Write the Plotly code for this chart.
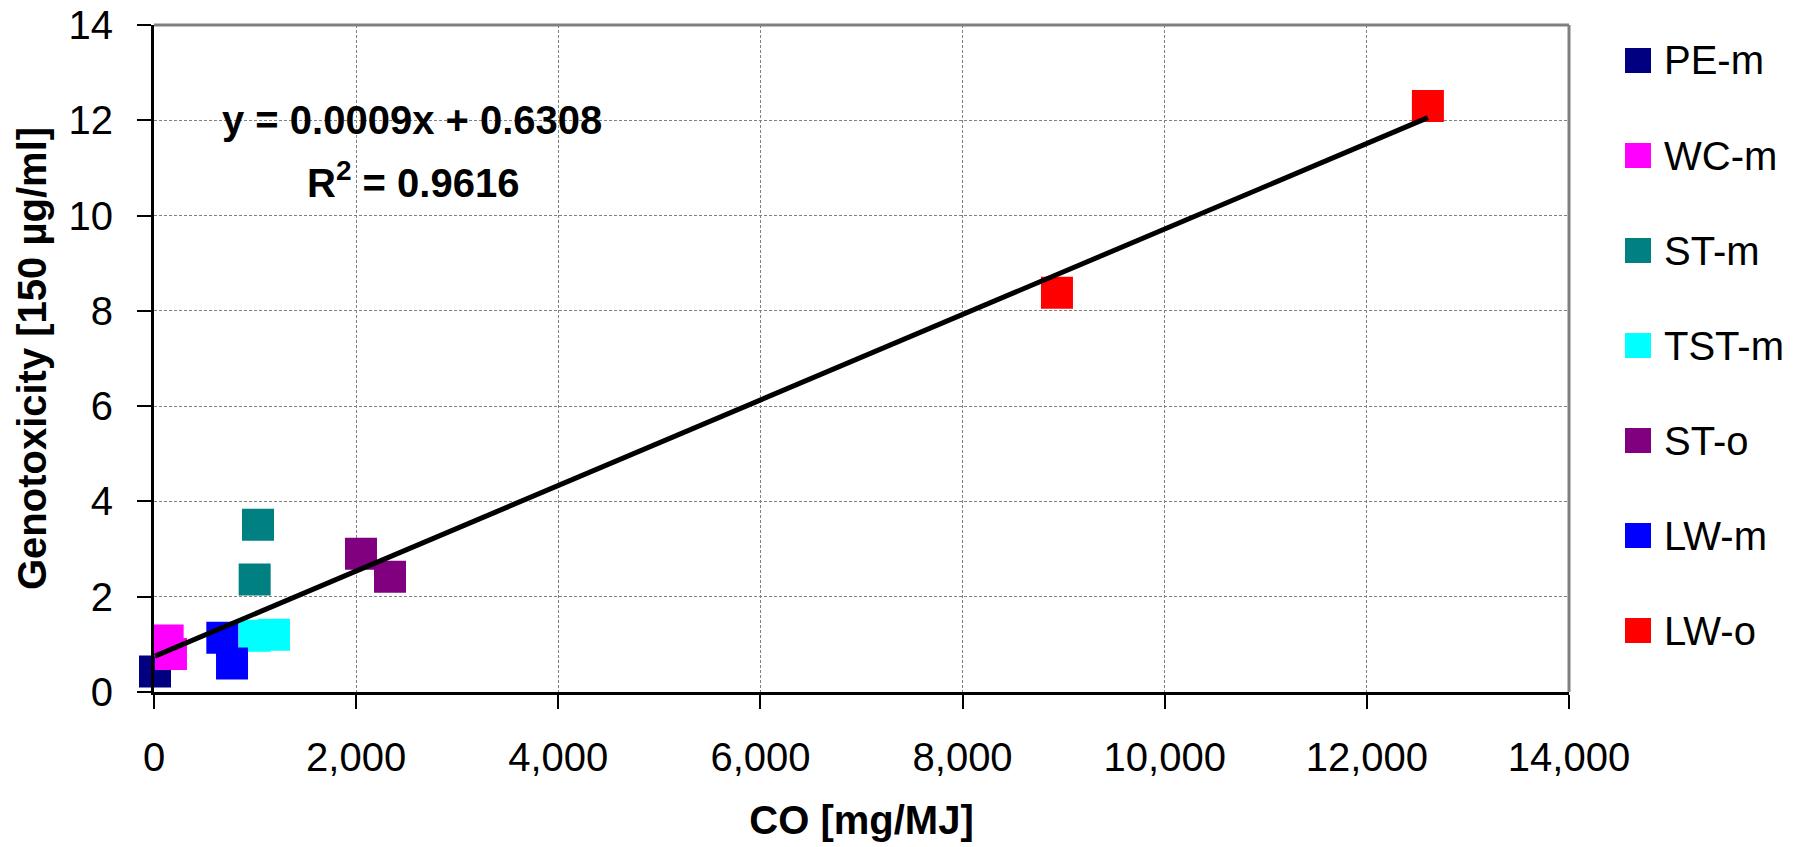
import numpy as np
import plotly.graph_objects as go

# ---- data ----
series_names = ["PE-m", "WC-m", "ST-m", "TST-m", "ST-o", "LW-m", "LW-o"]
series_colors = ["#000080", "#FF00FF", "#008080", "#00FFFF", "#800080", "#0000FF", "#FF0000"]
pe_m_x = [10]
pe_m_y = [0.43]
wc_m_x = [135, 168]
wc_m_y = [1.08, 0.80]
st_m_x = [1029, 996]
st_m_y = [3.51, 2.36]
tst_m_x = [996, 1187]
tst_m_y = [1.18, 1.20]
st_o_x = [2048, 2335]
st_o_y = [2.90, 2.42]
lw_m_x = [676, 772]
lw_m_y = [1.14, 0.60]
lw_o_x = [8934, 12604]
lw_o_y = [8.38, 12.30]

series_x = [pe_m_x, wc_m_x, st_m_x, tst_m_x, st_o_x, lw_m_x, lw_o_x]
series_y = [pe_m_y, wc_m_y, st_m_y, tst_m_y, st_o_y, lw_m_y, lw_o_y]

eq_text = "y = 0.0009x + 0.6308"
r2_text = "R<sup>2</sup> = 0.9616"

x_ticks = [0, 2000, 4000, 6000, 8000, 10000, 12000, 14000]
y_ticks = [0, 2, 4, 6, 8, 10, 12, 14]

FONT = "Liberation Sans, Arial, sans-serif"
FS = 40

fig = go.Figure()

# linear trendline fitted to all points
all_x = np.concatenate([np.array(v, float) for v in series_x])
all_y = np.concatenate([np.array(v, float) for v in series_y])
slope, intercept = np.polyfit(all_x, all_y, 1)
tx = np.array([all_x.min(), all_x.max()])

for name, col, xs, ys in zip(series_names, series_colors, series_x, series_y):
    fig.add_trace(go.Scatter(
        x=xs, y=ys, mode="markers", name=name, showlegend=False, cliponaxis=False,
        marker=dict(symbol="square", size=32, color=col, line=dict(width=0)),
    ))

fig.add_trace(go.Scatter(
    x=tx, y=slope * tx + intercept, mode="lines", showlegend=False,
    line=dict(color="black", width=5), name="Linear",
))

# plot area in pixels
L, R, T, B = 154, 1569, 25, 692
W, H = 1796, 847

fig.update_layout(
    width=W, height=H,
    margin=dict(l=L, r=W - R, t=T, b=H - B, autoexpand=False),
    paper_bgcolor="white", plot_bgcolor="white",
    font=dict(family=FONT, size=FS, color="black"),
    showlegend=False,
)

fig.update_xaxes(
    range=[0, 14000], tickvals=x_ticks, tickformat=",",
    showline=True, linecolor="black", linewidth=3,
    ticks="outside", ticklen=14, tickwidth=2, tickcolor="black",
    showgrid=True, gridcolor="#808080", gridwidth=1, griddash="3px,2px",
    zeroline=False, ticklabelstandoff=14,
    tickfont=dict(size=FS, family=FONT),
    title=dict(text="<b>CO [mg/MJ]</b>", font=dict(size=FS, family=FONT), standoff=28),
)
fig.update_yaxes(
    range=[0, 14], tickvals=y_ticks,
    showline=True, linecolor="black", linewidth=3,
    ticks="outside", ticklen=14, tickwidth=2, tickcolor="black",
    showgrid=True, gridcolor="#808080", gridwidth=1, griddash="3px,2px",
    zeroline=False, ticklabelstandoff=16,
    tickfont=dict(size=FS, family=FONT),
    title=dict(text="<b>Genotoxicity [150 µg/ml]</b>", font=dict(size=FS, family=FONT), standoff=10),
)

# gray top / right border
fig.add_shape(type="line", xref="paper", yref="paper", x0=0, x1=1, y0=1, y1=1,
              line=dict(color="#808080", width=3), layer="above")
fig.add_shape(type="line", xref="paper", yref="paper", x0=1, x1=1, y0=0, y1=1,
              line=dict(color="#808080", width=3), layer="above")

# equation annotation
fig.add_annotation(x=2553, y=12.0, xref="x", yref="y", text="<b>" + eq_text + "</b>",
                   showarrow=False, font=dict(size=FS, family=FONT, color="black"))
fig.add_annotation(x=2560, y=10.75, xref="x", yref="y", text="<b>" + r2_text + "</b>",
                   showarrow=False, font=dict(size=FS, family=FONT, color="black"))

# custom legend (large squares)
def px_to_paper_x(px):
    return (px - L) / (R - L)

def px_to_paper_y(py):
    return (B - py) / (B - T)

for i, (name, col) in enumerate(zip(series_names, series_colors)):
    cy = 60.5 + 95 * i
    fig.add_shape(type="rect", xref="paper", yref="paper",
                  x0=px_to_paper_x(1625), x1=px_to_paper_x(1651),
                  y0=px_to_paper_y(cy + 12.5), y1=px_to_paper_y(cy - 12.5),
                  fillcolor=col, line=dict(width=0))
    fig.add_annotation(x=px_to_paper_x(1662), y=px_to_paper_y(cy), xref="paper", yref="paper",
                       text=name, showarrow=False, xanchor="left", yanchor="middle",
                       font=dict(size=FS, family=FONT, color="black"))

fig.write_html("out.html")
